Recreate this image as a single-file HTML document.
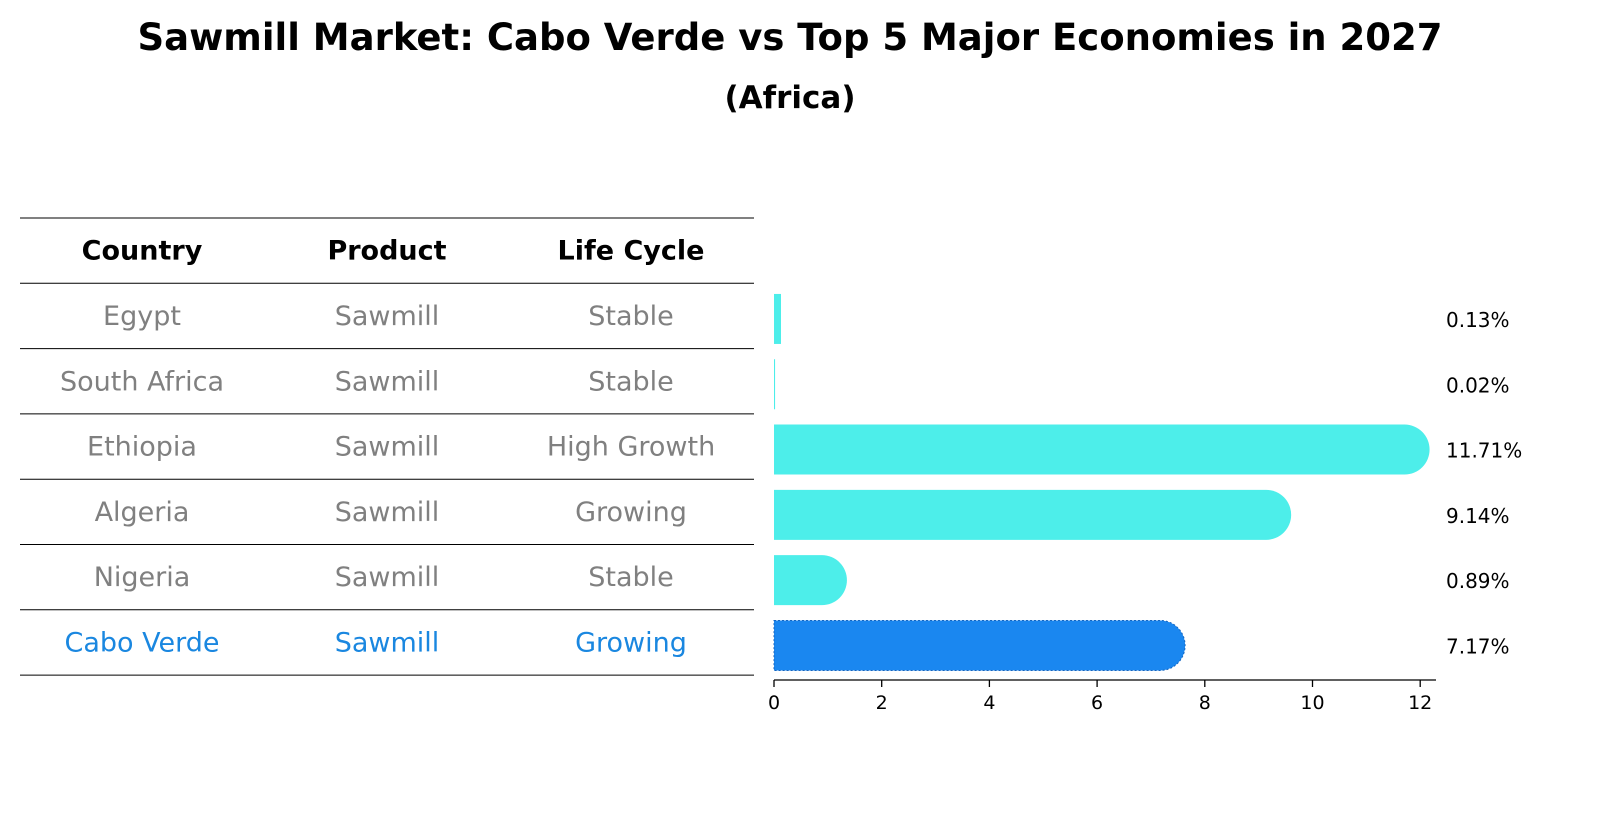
<!DOCTYPE html>
<html><head><meta charset="utf-8">
<style>
body{margin:0;background:#fff;font-family:"Liberation Sans","DejaVu Sans",sans-serif;}
#wrap{position:relative;width:1604px;height:823px;overflow:hidden;}
</style></head>
<body>
<div id="wrap">
<svg id="svg" width="1604" height="823" xmlns="http://www.w3.org/2000/svg" font-family="DejaVu Sans, Liberation Sans, sans-serif">
<text x="790" y="50" text-anchor="middle" font-size="37" font-weight="bold">Sawmill Market: Cabo Verde vs Top 5 Major Economies in 2027</text>
<text x="790" y="108" text-anchor="middle" font-size="31" font-weight="bold">(Africa)</text>
<g id="table"></g>
<g id="bars"></g>
</svg>
</div>
<script>
const countries=["Egypt","South Africa","Ethiopia","Algeria","Nigeria","Cabo Verde"];
const products=["Sawmill","Sawmill","Sawmill","Sawmill","Sawmill","Sawmill"];
const lifecycles=["Stable","Stable","High Growth","Growing","Stable","Growing"];
const values=[0.13,0.02,11.71,9.14,0.89,7.17];
const valueLabels=["0.13%","0.02%","11.71%","9.14%","0.89%","7.17%"];
const xTicks=[0,2,4,6,8,10,12];

const NS="http://www.w3.org/2000/svg";
function mk(tag,attrs,parent,text){const e=document.createElementNS(NS,tag);for(const k in attrs)e.setAttribute(k,attrs[k]);if(text!==undefined)e.textContent=text;parent.appendChild(e);return e;}
const table=document.getElementById('table');
const bars=document.getElementById('bars');
const rowTop=218,rowH=65.3;
const colX=[142,387,631];
const x0=774,pxPerUnit=53.85;
function xs(v){return x0+v*pxPerUnit;}
function rowY(i){return rowTop+rowH*(i+1)+rowH/2;}

for(let i=0;i<=countries.length+1;i++){
  const y=rowTop+i*rowH;
  const l=mk('line',{x1:20,x2:754,y1:y,y2:y,stroke:'#000','stroke-width':1},table);
  
  
}
["Country","Product","Life Cycle"].forEach((h,j)=>{
  const t=mk('text',{x:colX[j],y:rowTop+rowH/2+9,'text-anchor':'middle','font-size':27,'font-weight':'bold'},table,h);
  
  
});
countries.forEach((c,i)=>{
  const col=i===countries.length-1?'#1a87e0':'#808080';
  [c,products[i],lifecycles[i]].forEach((v,j)=>{
    const t=mk('text',{x:colX[j],y:rowY(i)+9,'text-anchor':'middle','font-size':27,fill:col},table,v);
    
    
  });
  const h=50,cy=rowY(i)+3;
  const w=xs(values[i])-x0;
  const isHi=i===countries.length-1;
  const fill=isHi?'#1a87f0':'#4deeea';
  const g=mk('g',{},bars);
  
  
  if(values[i]>0.5){
    mk('path',{d:`M${x0},${cy-h/2} H${x0+w} A${h/2},${h/2} 0 0 1 ${x0+w},${cy+h/2} H${x0} Z`,fill:fill,stroke:isHi?'#1565c0':'none','stroke-dasharray':isHi?'2,2':'none','stroke-width':1},g);
  } else {
    mk('rect',{x:x0,y:cy-h/2,width:Math.max(w,1),height:h,fill:fill},g);
  }
  const lt=mk('text',{x:1446,y:cy+8,'font-size':20},bars,valueLabels[i]);
  
  
});
const ax=mk('line',{x1:x0,x2:1436,y1:680,y2:680,stroke:'#000','stroke-width':1.3},bars);


xTicks.forEach(t=>{
  const tl=mk('line',{x1:xs(t),x2:xs(t),y1:680,y2:687,stroke:'#000','stroke-width':1.3},bars);
  
  
  const tx=mk('text',{x:xs(t),y:709,'text-anchor':'middle','font-size':19},bars,String(t));
  
  
});
</script>
</body></html>
